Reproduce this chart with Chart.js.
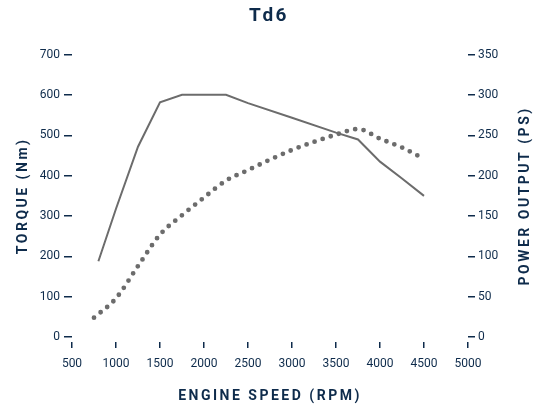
<!DOCTYPE html>
<html>
<head>
<meta charset="utf-8">
<script src="https://cdn.jsdelivr.net/npm/chart.js@4"></script>
<style>
  html, body { margin: 0; padding: 0; background: #fff; }
  #wrap { width: 538px; height: 409px; }
</style>
</head>
<body>
<div id="wrap"><canvas id="engineChart"></canvas></div>
<script>
// values
const torqueRpm = [800, 1000, 1250, 1500, 1750, 2000, 2250, 2500, 3000, 3500, 3750, 4000, 4250, 4500];
const torqueNm  = [188, 318, 472, 582, 601, 601, 601, 580, 544, 507, 490, 435, 393, 350];
const powerRpm  = [750, 1000, 1250, 1500, 1750, 2000, 2250, 2500, 2750, 3000, 3250, 3500, 3750, 4000, 4250, 4500];
const powerPs   = [24, 48, 88, 127, 151, 173, 194, 207, 220, 232, 242, 251, 258, 246, 235, 221];
const rpmTicks    = [500, 1000, 1500, 2000, 2500, 3000, 3500, 4000, 4500, 5000];
const torqueTicks = [0, 100, 200, 300, 400, 500, 600, 700];
const powerTicks  = [0, 50, 100, 150, 200, 250, 300, 350];

const navy = '#0e2b4b';
const grey = '#6c6c6c';
const font = 'Roboto';
const titleFont = { family: font, size: 14, weight: 'bold' };
const spacing = '2.5px';

// titles get letter spacing, tick labels (drawn after the datasets) don't
const spacedTitles = {
  id: 'spacedTitles',
  beforeDraw(chart) { chart.ctx.letterSpacing = spacing; },
  beforeDatasetsDraw(chart) { chart.ctx.letterSpacing = '0px'; },
  afterDraw(chart) {
    // right axis title reads bottom to top, like the left one
    const { ctx, chartArea, scales } = chart;
    ctx.save();
    ctx.letterSpacing = spacing;
    ctx.font = `bold ${titleFont.size}px ${font}`;
    ctx.fillStyle = navy;
    ctx.textAlign = 'center';
    ctx.textBaseline = 'middle';
    ctx.translate(scales.y1.right - 12.5, (chartArea.top + chartArea.bottom) / 2);
    ctx.rotate(-Math.PI / 2);
    ctx.fillText('POWER OUTPUT (PS)', 0, 0);
    ctx.restore();
    ctx.letterSpacing = '0px';
  }
};

const useTicks = list => scale => { scale.ticks = list.map(v => ({ value: v })); };
const plain = v => String(v);

new Chart(document.getElementById('engineChart'), {
  type: 'line',
  data: {
    datasets: [{
      label: 'Torque (Nm)',
      data: torqueRpm.map((r, i) => ({ x: r, y: torqueNm[i] })),
      yAxisID: 'y',
      borderColor: grey,
      borderWidth: 2,
      pointRadius: 0,
      tension: 0
    }, {
      label: 'Power output (PS)',
      data: powerRpm.map((r, i) => ({ x: r, y: powerPs[i] })),
      yAxisID: 'y1',
      borderColor: grey,
      borderWidth: 4.8,
      borderDash: [0, 8.5],
      borderCapStyle: 'round',
      pointRadius: 0,
      cubicInterpolationMode: 'monotone'
    }]
  },
  options: {
    responsive: true,
    maintainAspectRatio: false,
    animation: false,
    layout: { padding: 0 },
    plugins: {
      legend: { display: false },
      tooltip: { enabled: false },
      title: {
        display: true,
        text: 'Td6',
        color: navy,
        font: { family: font, size: 19, weight: 'bold' },
        padding: { top: 5, bottom: 27 }
      }
    },
    scales: {
      x: {
        type: 'linear',
        min: 500,
        max: 5000,
        afterBuildTicks: useTicks(rpmTicks),
        afterFit(s) { s.height = 72; },
        border: { display: false },
        grid: {
          drawOnChartArea: false,
          color: navy,
          lineWidth: 1.5,
          tickLength: 11,
          tickBorderDash: [0, 5, 6, 100]
        },
        ticks: { color: navy, font: { family: font, size: 12 }, padding: 9, maxRotation: 0, z: 1, callback: plain },
        title: {
          display: true,
          text: 'ENGINE SPEED (RPM)',
          color: navy,
          font: titleFont,
          padding: { top: 0, bottom: 4 }
        }
      },
      y: {
        position: 'left',
        min: 0,
        max: 700,
        afterBuildTicks: useTicks(torqueTicks),
        afterFit(s) { s.width = 72; },
        border: { display: false },
        grid: { drawOnChartArea: false, color: navy, lineWidth: 1.5, tickLength: 8 },
        ticks: { color: navy, font: { family: font, size: 12 }, padding: 4, z: 1, callback: plain },
        title: {
          display: true,
          text: 'TORQUE (Nm)',
          color: navy,
          font: titleFont,
          padding: { top: 15, bottom: 0 }
        }
      },
      y1: {
        position: 'right',
        min: 0,
        max: 350,
        afterBuildTicks: useTicks(powerTicks),
        afterFit(s) { s.width = 70; },
        border: { display: false },
        grid: { drawOnChartArea: false, color: navy, lineWidth: 1.5, tickLength: 7 },
        ticks: { color: navy, font: { family: font, size: 12 }, padding: 3, z: 1, callback: plain },
        title: { display: false }
      }
    }
  },
  plugins: [spacedTitles]
});
</script>
</body>
</html>
